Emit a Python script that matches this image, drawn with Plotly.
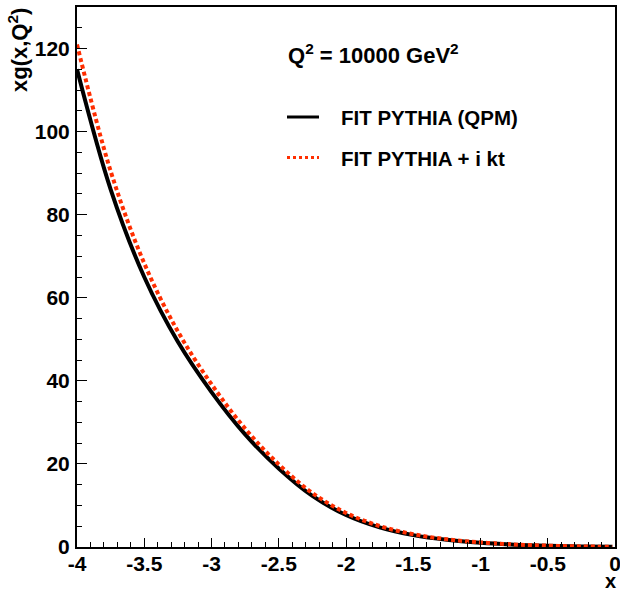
import plotly.graph_objects as go

# log10(x) grid and gluon momentum density xg(x, Q^2) at Q^2 = 10000 GeV^2
log_x = [-4.00, -3.75, -3.50, -3.25, -3.00, -2.75, -2.50, -2.25, -2.00,
         -1.75, -1.50, -1.25, -1.00, -0.75, -0.50, -0.25, -0.02]
xg_qpm = [115.0, 86.1, 65.0, 49.4, 37.3, 27.1, 18.9, 12.3, 7.7,
          4.72, 2.86, 1.72, 1.02, 0.57, 0.30, 0.135, 0.04]
xg_ikt = [121.0, 90.5, 68.3, 51.9, 39.2, 28.5, 19.9, 13.0, 8.2,
          5.05, 3.08, 1.85, 1.10, 0.61, 0.32, 0.145, 0.043]

series_names = ["FIT PYTHIA (QPM)", "FIT PYTHIA + i kt"]
header_text = "Q<sup>2</sup> = 10000 GeV<sup>2</sup>"
x_title = "x"
y_title = "xg(x,Q<sup>2</sup>)"
x_ticks = [-4, -3.5, -3, -2.5, -2, -1.5, -1, -0.5, 0]
y_ticks = [0, 20, 40, 60, 80, 100, 120]

W, H = 620, 591
L, R, T, B = 77, 5, 7, 44
PW, PH = W - L - R, H - T - B

FONT = "Liberation Sans"
BLACK = "#000000"
RED = "#ff2e00"


def px(xp):
    return (xp - L) / PW


def py(yp):
    return (H - B - yp) / PH


fig = go.Figure()
fig.add_trace(go.Scatter(x=log_x, y=xg_qpm, mode="lines", name=series_names[0],
                         line=dict(color=BLACK, width=4, shape="spline"),
                         showlegend=False))
fig.add_trace(go.Scatter(x=log_x, y=xg_ikt, mode="lines", name=series_names[1],
                         line=dict(color=RED, width=4, dash="4px,3px", shape="spline"),
                         showlegend=False))

tick_font = dict(family=FONT, size=21, color=BLACK, weight="bold")

fig.update_xaxes(range=[-4, 0], tickmode="array", tickvals=x_ticks,
                 ticktext=[f"{v:g}" for v in x_ticks],
                 ticks="inside", ticklen=9, tickwidth=1, tickcolor=BLACK,
                 minor=dict(dtick=0.1, ticks="inside", ticklen=5, tickcolor=BLACK, tickwidth=1),
                 showline=True, mirror=True, linecolor=BLACK, linewidth=2,
                 showgrid=False, zeroline=False, tickfont=tick_font,
                 ticklabelstandoff=-3, automargin=False, ticklabeloverflow="allow")
fig.update_yaxes(range=[0, 130], tickmode="array", tickvals=y_ticks,
                 ticktext=[str(v) for v in y_ticks],
                 ticks="inside", ticklen=10, tickwidth=1, tickcolor=BLACK,
                 minor=dict(dtick=5, ticks="inside", ticklen=5, tickcolor=BLACK, tickwidth=1),
                 showline=True, mirror=True, linecolor=BLACK, linewidth=2,
                 showgrid=False, zeroline=False, tickfont=tick_font,
                 ticklabelstandoff=1, automargin=False, ticklabeloverflow="allow")

text_font = dict(family=FONT, size=20.5, color=BLACK, weight="bold")

annotations = [
    dict(text=header_text, x=px(286), y=py(54), xanchor="left", yanchor="middle",
         font=dict(family=FONT, size=22, color=BLACK, weight="bold")),
    dict(text=series_names[0], x=px(339), y=py(117.5), xanchor="left", yanchor="middle",
         font=text_font),
    dict(text=series_names[1], x=px(339), y=py(158), xanchor="left", yanchor="middle",
         font=text_font),
    dict(text=x_title, x=px(618), y=py(568), xanchor="right", yanchor="top",
         font=dict(family=FONT, size=20, color=BLACK, weight="bold")),
    dict(text=y_title, x=px(34), y=py(6), xanchor="right", yanchor="top",
         textangle=-90, font=dict(family=FONT, size=22, color=BLACK, weight="bold")),
]
for a in annotations:
    a.update(xref="paper", yref="paper", showarrow=False)

shapes = [
    dict(type="line", x0=px(287), x1=px(319), y0=py(117), y1=py(117),
         line=dict(color=BLACK, width=3)),
    dict(type="line", x0=px(287), x1=px(319), y0=py(157.5), y1=py(157.5),
         line=dict(color=RED, width=3, dash="3px,3px")),
]
for s in shapes:
    s.update(xref="paper", yref="paper")

fig.update_layout(width=W, height=H,
                  margin=dict(l=L, r=R, t=T, b=B, autoexpand=False),
                  paper_bgcolor="white", plot_bgcolor="white",
                  annotations=annotations, shapes=shapes, showlegend=False)

fig.write_html("out.html")
